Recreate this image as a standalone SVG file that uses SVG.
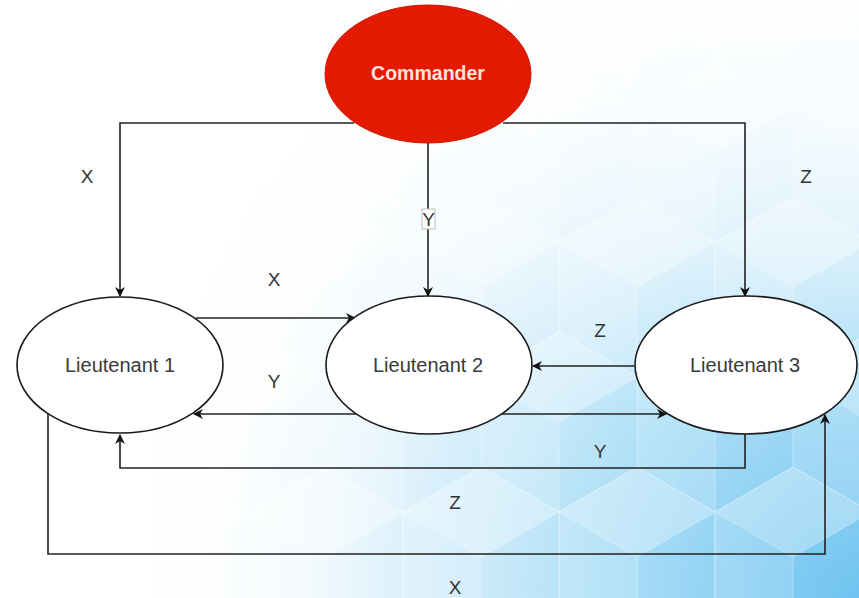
<svg xmlns="http://www.w3.org/2000/svg" width="859" height="598" viewBox="0 0 859 598">
  <defs>
    <style>
      .edge { fill: none; stroke: #222; stroke-width: 1.6; }
      .node { fill: #fff; stroke: #1a1a1a; stroke-width: 1.6; }
      .ntext { font-family: "Liberation Sans", Arial, sans-serif; font-size: 20px; fill: #3a3a3a; text-anchor: middle; }
      .lbl { font-family: "Liberation Sans", Arial, sans-serif; font-size: 19px; fill: #333; text-anchor: middle; }
    </style>
    <marker id="arr" viewBox="0 0 10 10" refX="9" refY="5" markerWidth="10" markerHeight="10" markerUnits="userSpaceOnUse" orient="auto">
      <path d="M0,0 L10,5 L0,10 L3,5 z" fill="#111"/>
    </marker>
    <pattern id="cubes" x="0" y="0" width="156" height="270" patternUnits="userSpaceOnUse">
      <g id="cube">
        <path d="M0,-90 L78,-45 L0,0 L-78,-45 z" fill="#fff" fill-opacity="0.45"/>
        <path d="M-78,-45 L0,0 L0,90 L-78,45 z" fill="#fff" fill-opacity="0.2"/>
        <path d="M0,-90 L78,-45 L78,45 L0,90 L-78,45 L-78,-45 z M0,0 L0,90 M0,0 L78,-45 M0,0 L-78,-45" fill="none" stroke="#fff" stroke-opacity="0.5" stroke-width="1"/>
      </g>
      <use href="#cube" x="156" y="0"/>
      <use href="#cube" x="78" y="135"/>
      <use href="#cube" x="0" y="270"/>
      <use href="#cube" x="156" y="270"/>
    </pattern>
    <radialGradient id="bluefade" cx="859" cy="598" r="760" gradientUnits="userSpaceOnUse">
      <stop offset="0" stop-color="#6fc3f0" stop-opacity="1"/>
      <stop offset="0.35" stop-color="#a6dcf6" stop-opacity="0.85"/>
      <stop offset="0.7" stop-color="#d8effb" stop-opacity="0.45"/>
      <stop offset="1" stop-color="#ffffff" stop-opacity="0"/>
    </radialGradient>
    <linearGradient id="leftfade" x1="150" y1="0" x2="400" y2="0" gradientUnits="userSpaceOnUse">
      <stop offset="0" stop-color="#fff" stop-opacity="1"/>
      <stop offset="1" stop-color="#fff" stop-opacity="0"/>
    </linearGradient>
    <linearGradient id="topfade" x1="0" y1="0" x2="0" y2="420" gradientUnits="userSpaceOnUse">
      <stop offset="0" stop-color="#fff" stop-opacity="0.8"/>
      <stop offset="0.5" stop-color="#fff" stop-opacity="0.45"/>
      <stop offset="1" stop-color="#fff" stop-opacity="0"/>
    </linearGradient>
  </defs>

  <g id="background">
    <rect x="0" y="0" width="859" height="598" fill="#ffffff"/>
    <rect x="150" y="0" width="709" height="598" fill="url(#bluefade)"/>
    <rect x="150" y="0" width="709" height="598" fill="url(#cubes)" transform="translate(13,17)"/>
    <rect x="150" y="0" width="709" height="598" fill="url(#bluefade)" fill-opacity="0.35"/>
    <rect x="0" y="0" width="859" height="420" fill="url(#topfade)"/>
    <rect x="150" y="0" width="250" height="598" fill="url(#leftfade)" fill-opacity="0.6"/>
  </g>

  <g id="connectors">
    <path class="edge" d="M354,123 H120 V296" marker-end="url(#arr)"/>
    <path class="edge" d="M428,143 V296" marker-end="url(#arr)"/>
    <path class="edge" d="M503,123 H745 V296" marker-end="url(#arr)"/>
    <path class="edge" d="M196,318 H355" marker-end="url(#arr)"/>
    <path class="edge" d="M356,414 H194" marker-end="url(#arr)"/>
    <path class="edge" d="M634,366 H533" marker-end="url(#arr)"/>
    <path class="edge" d="M502,414 H666" marker-end="url(#arr)"/>
    <path class="edge" d="M745,434 V468 H120 V435" marker-end="url(#arr)"/>
    <path class="edge" d="M48,414 V554 H825 V415" marker-end="url(#arr)"/>
  </g>

  <g id="edge-labels">
    <text class="lbl" x="87" y="183">X</text>
    <text class="lbl" x="806" y="183">Z</text>
    <rect x="422" y="209" width="13" height="20" fill="#fff" stroke="#bbb" stroke-width="1"/>
    <text class="lbl" x="428.5" y="226">Y</text>
    <text class="lbl" x="274" y="286">X</text>
    <text class="lbl" x="274" y="388">Y</text>
    <text class="lbl" x="600" y="337">Z</text>
    <text class="lbl" x="600" y="458">Y</text>
    <text class="lbl" x="455" y="509">Z</text>
    <text class="lbl" x="455" y="594">X</text>
  </g>

  <g id="commander">
    <ellipse cx="428" cy="74" rx="103" ry="69" fill="#e31a00" stroke="#cf1800" stroke-width="1"/>
    <text x="428" y="80" font-family="Liberation Sans, Arial, sans-serif" font-size="19.5" font-weight="bold" fill="#fde3de" text-anchor="middle">Commander</text>
  </g>

  <g id="lieutenant1">
    <ellipse class="node" cx="120" cy="365" rx="103" ry="68"/>
    <text class="ntext" x="120" y="372">Lieutenant 1</text>
  </g>

  <g id="lieutenant2">
    <ellipse class="node" cx="429" cy="365" rx="103" ry="69"/>
    <text class="ntext" x="428" y="372">Lieutenant 2</text>
  </g>

  <g id="lieutenant3">
    <ellipse class="node" cx="746" cy="365" rx="111" ry="69"/>
    <text class="ntext" x="745" y="372">Lieutenant 3</text>
  </g>
</svg>
